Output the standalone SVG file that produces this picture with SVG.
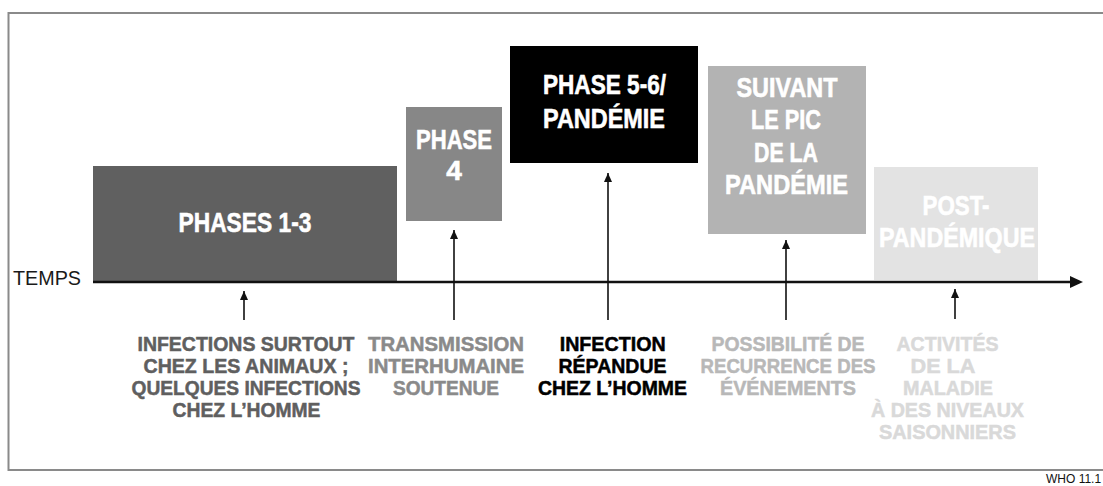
<svg xmlns="http://www.w3.org/2000/svg" width="1103" height="486" viewBox="0 0 1103 486">
<defs>
<style>
.bt{font-family:"Liberation Sans",Arial,sans-serif;font-weight:bold;font-size:28px;fill:#fff;stroke:#fff;stroke-width:0.6;text-anchor:middle}
.lt{font-family:"Liberation Sans",Arial,sans-serif;font-weight:bold;font-size:20px;stroke-width:0.5;text-anchor:middle}
.conn{stroke:#111;stroke-width:1.6;fill:none}
</style>
<marker id="ah" markerWidth="10" markerHeight="9" refX="9" refY="4" orient="auto" markerUnits="userSpaceOnUse">
<path d="M0,0 L9,4 L0,8 z" fill="#111"/>
</marker>
</defs>
<rect x="0" y="0" width="1103" height="486" fill="#fff"/>
<rect x="8.5" y="13" width="1110" height="457" fill="none" stroke="#8a8a8a" stroke-width="2"/>

<g id="phases13">
<rect x="93" y="166" width="304" height="116" fill="#606060"/>
<text class="bt" x="245" y="232" textLength="133" lengthAdjust="spacingAndGlyphs">PHASES 1-3</text>
</g>
<g id="phase4">
<rect x="406" y="107" width="96" height="114" fill="#878787"/>
<text class="bt" x="454" y="149" textLength="76" lengthAdjust="spacingAndGlyphs">PHASE</text>
<text class="bt" x="454" y="180">4</text>
</g>
<g id="phase56">
<rect x="510" y="46" width="188" height="117" fill="#000"/>
<text class="bt" x="604.5" y="94" textLength="123" lengthAdjust="spacingAndGlyphs">PHASE 5-6/</text>
<text class="bt" x="604" y="128" textLength="122" lengthAdjust="spacingAndGlyphs">PANDÉMIE</text>
</g>
<g id="suivant">
<rect x="708" y="66" width="158" height="168" fill="#b3b3b3"/>
<text class="bt" x="787" y="97" textLength="101" lengthAdjust="spacingAndGlyphs">SUIVANT</text>
<text class="bt" x="786" y="129" textLength="70" lengthAdjust="spacingAndGlyphs">LE PIC</text>
<text class="bt" x="786" y="162" textLength="64" lengthAdjust="spacingAndGlyphs">DE LA</text>
<text class="bt" x="786.5" y="194" textLength="123" lengthAdjust="spacingAndGlyphs">PANDÉMIE</text>
</g>
<g id="post">
<rect x="874" y="167" width="164" height="113" fill="#e3e3e3"/>
<text class="bt" x="956" y="215" textLength="67" lengthAdjust="spacingAndGlyphs">POST-</text>
<text class="bt" x="957" y="247" textLength="156" lengthAdjust="spacingAndGlyphs">PANDÉMIQUE</text>
</g>

<g id="temps">
<text x="13" y="285" font-family="'Liberation Sans',Arial,sans-serif" font-size="21" fill="#1a1a1a" textLength="68" lengthAdjust="spacingAndGlyphs">TEMPS</text>
</g>

<g id="connectors">
<line x1="93" y1="282" x2="1072" y2="282" stroke="#111" stroke-width="2.4"/>
<polygon points="1070,276 1083,282 1070,288" fill="#111"/>
<line class="conn" x1="244" y1="320" x2="244" y2="291" marker-end="url(#ah)"/>
<line class="conn" x1="454" y1="320" x2="454" y2="230" marker-end="url(#ah)"/>
<line class="conn" x1="608" y1="320" x2="608" y2="173" marker-end="url(#ah)"/>
<line class="conn" x1="786" y1="320" x2="786" y2="240" marker-end="url(#ah)"/>
<line class="conn" x1="955" y1="319" x2="955" y2="289" marker-end="url(#ah)"/>
</g>

<g id="label1" fill="#5f5f5f" stroke="#5f5f5f">
<text class="lt" x="246" y="351" textLength="217" lengthAdjust="spacingAndGlyphs">INFECTIONS SURTOUT</text>
<text class="lt" x="246" y="373" textLength="205" lengthAdjust="spacingAndGlyphs">CHEZ LES ANIMAUX ;</text>
<text class="lt" x="246" y="395" textLength="229" lengthAdjust="spacingAndGlyphs">QUELQUES INFECTIONS</text>
<text class="lt" x="246.5" y="417" textLength="148" lengthAdjust="spacingAndGlyphs">CHEZ L’HOMME</text>
</g>
<g id="label2" fill="#8a8a8a" stroke="#8a8a8a">
<text class="lt" x="446" y="351" textLength="156" lengthAdjust="spacingAndGlyphs">TRANSMISSION</text>
<text class="lt" x="446" y="373" textLength="156" lengthAdjust="spacingAndGlyphs">INTERHUMAINE</text>
<text class="lt" x="446" y="395" textLength="106" lengthAdjust="spacingAndGlyphs">SOUTENUE</text>
</g>
<g id="label3" fill="#000" stroke="#000">
<text class="lt" x="612.7" y="351" textLength="106" lengthAdjust="spacingAndGlyphs">INFECTION</text>
<text class="lt" x="612.5" y="373" textLength="108" lengthAdjust="spacingAndGlyphs">RÉPANDUE</text>
<text class="lt" x="612.5" y="395" textLength="149" lengthAdjust="spacingAndGlyphs">CHEZ L’HOMME</text>
</g>
<g id="label4" fill="#b8b8b8" stroke="#b8b8b8">
<text class="lt" x="788" y="351" textLength="153" lengthAdjust="spacingAndGlyphs">POSSIBILITÉ DE</text>
<text class="lt" x="788" y="373" textLength="175" lengthAdjust="spacingAndGlyphs">RECURRENCE DES</text>
<text class="lt" x="788" y="395" textLength="136" lengthAdjust="spacingAndGlyphs">ÉVÉNEMENTS</text>
</g>
<g id="label5" fill="#d9d9d9" stroke="#d9d9d9">
<text class="lt" x="947.5" y="351" textLength="102" lengthAdjust="spacingAndGlyphs">ACTIVITÉS</text>
<text class="lt" x="943" y="373" textLength="65" lengthAdjust="spacingAndGlyphs">DE LA</text>
<text class="lt" x="948" y="395" textLength="90" lengthAdjust="spacingAndGlyphs">MALADIE</text>
<text class="lt" x="947.5" y="417" textLength="153" lengthAdjust="spacingAndGlyphs">À DES NIVEAUX</text>
<text class="lt" x="947.5" y="439" textLength="137" lengthAdjust="spacingAndGlyphs">SAISONNIERS</text>
</g>
<g id="credit">
<text x="1046" y="483" font-family="'Liberation Sans',Arial,sans-serif" font-size="12" fill="#111">WHO 11.1</text>
</g>
</svg>
